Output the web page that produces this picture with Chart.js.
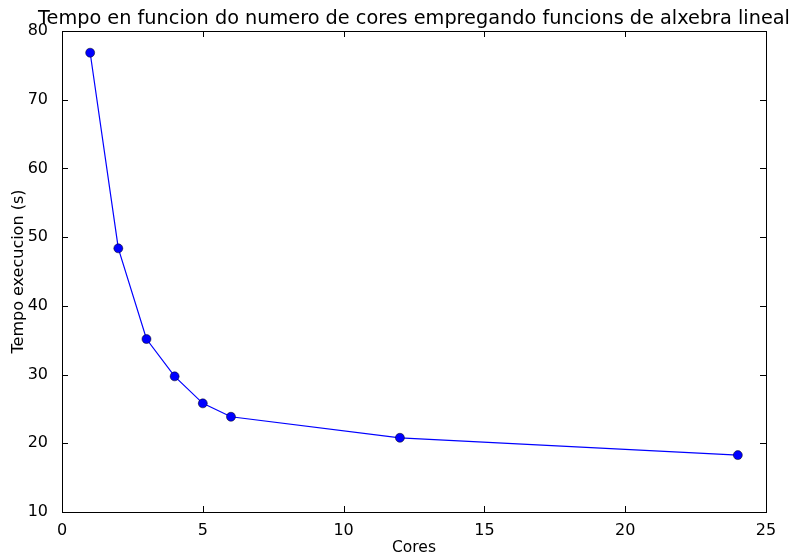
<!DOCTYPE html>
<html>
<head>
<meta charset="utf-8">
<script src="https://cdn.jsdelivr.net/npm/chart.js@4"></script>
<style>
html,body{margin:0;padding:0;background:#fff;}
#wrap{width:793px;height:558px;position:relative;}
</style>
</head>
<body>
<div id="wrap"><canvas id="c" width="793" height="558"></canvas></div>
<script>
const cores = [1, 2, 3, 4, 5, 6, 12, 24];
const tempo = [76.84, 48.37, 35.17, 29.74, 25.81, 23.86, 20.8, 18.28];
const xTicks = [0, 5, 10, 15, 20, 25];
const yTicks = [10, 20, 30, 40, 50, 60, 70, 80];
const titleText = 'Tempo en funcion do numero de cores empregando funcions de alxebra lineal';
const xLabel = 'Cores';
const yLabel = 'Tempo execucion (s)';

const FONT = "'DejaVu Sans', sans-serif";

const framePlugin = {
  id: 'frame',
  afterDraw(chart) {
    const {ctx, chartArea: a, scales: {x, y}} = chart;
    ctx.save();
    ctx.strokeStyle = '#000';
    ctx.lineWidth = 1;
    const tl = 6;
    ctx.beginPath();
    xTicks.forEach(v => {
      const px = Math.round(x.getPixelForValue(v)) + 0.5;
      ctx.moveTo(px, a.bottom); ctx.lineTo(px, a.bottom - tl);
      ctx.moveTo(px, a.top); ctx.lineTo(px, a.top + tl);
    });
    yTicks.forEach(v => {
      const py = Math.round(y.getPixelForValue(v)) + 0.5;
      ctx.moveTo(a.left, py); ctx.lineTo(a.left + tl, py);
      ctx.moveTo(a.right, py); ctx.lineTo(a.right - tl, py);
    });
    ctx.stroke();
    ctx.strokeRect(Math.round(a.left) + 0.5, Math.round(a.top) + 0.5,
                   Math.round(a.right - a.left), Math.round(a.bottom - a.top));
    ctx.fillStyle = '#000';
    ctx.font = '19.3px ' + FONT;
    ctx.textAlign = 'center';
    ctx.textBaseline = 'alphabetic';
    ctx.fillText(titleText, (a.left + a.right) / 2, 24);
    ctx.restore();
  }
};

new Chart(document.getElementById('c'), {
  type: 'scatter',
  data: {
    datasets: [{
      data: cores.map((c, i) => ({x: c, y: tempo[i]})),
      showLine: true,
      borderColor: '#0000ff',
      borderWidth: 1.2,
      backgroundColor: '#0000ff',
      pointBorderColor: '#000',
      pointBorderWidth: 0.5,
      pointRadius: 4.5,
      pointHoverRadius: 4.5,
      tension: 0
    }]
  },
  options: {
    responsive: false,
    animation: false,
    events: [],
    layout: {padding: {top: 31, right: 27, left: 0, bottom: 0}},
    plugins: {legend: {display: false}, tooltip: {enabled: false}, title: {display: false}},
    scales: {
      x: {
        type: 'linear', min: 0, max: 25,
        afterBuildTicks: s => { s.ticks = xTicks.map(v => ({value: v})); },
        afterFit: s => { s.height = 46; },
        grid: {display: false},
        border: {display: false},
        ticks: {color: '#000', font: {family: FONT, size: 16}, padding: 1, maxRotation: 0},
        title: {display: true, text: xLabel, color: '#000', font: {family: FONT, size: 15.5}, padding: {top: 0, bottom: 1}}
      },
      y: {
        type: 'linear', min: 10, max: 80,
        afterBuildTicks: s => { s.ticks = yTicks.map(v => ({value: v})); },
        afterFit: s => { s.width = 62; },
        grid: {display: false},
        border: {display: false},
        ticks: {color: '#000', font: {family: FONT, size: 16}, padding: 6},
        title: {display: true, text: yLabel, color: '#000', font: {family: FONT, size: 16}, padding: {top: 9, bottom: 0}}
      }
    }
  },
  plugins: [framePlugin]
});
</script>
</body>
</html>
